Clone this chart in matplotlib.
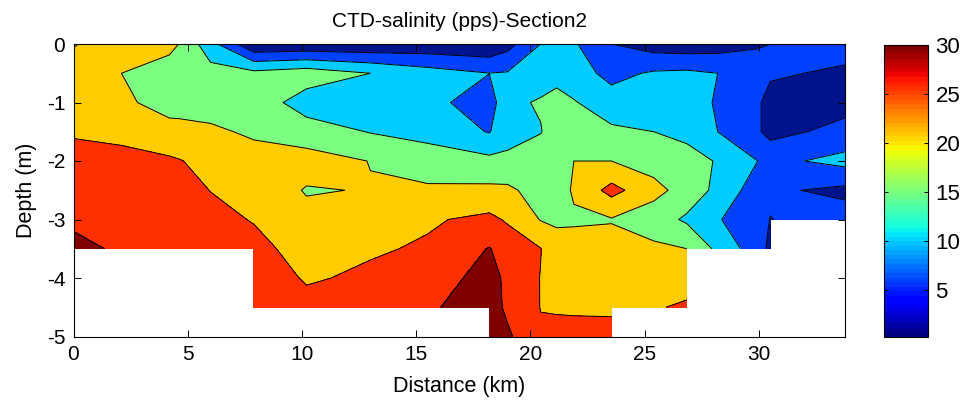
import matplotlib
matplotlib.use("Agg")
import matplotlib.pyplot as plt
import numpy as np

plt.rcParams['font.family'] = ['Liberation Sans', 'DejaVu Sans']
plt.rcParams['axes.unicode_minus'] = False

# station positions (km) and sample depths (m)
distance = [0, 2.1, 4.2, 4.6, 6.0, 7.9, 10.2, 13.0, 15.5, 18.2, 19.0, 20.45, 21.15, 21.9,
            23.55, 25.4, 26.85, 28.2, 29.95, 30.5, 33.75]
depth = [0, -0.5, -1, -1.5, -2, -2.5, -3, -3.5, -4, -4.5, -5]

# salinity profiles, top to bottom
st01 = [17, 18.5, 19.5, 21.2, 22.5, 24, 25.2, 26.7]
st02 = [19, 17.2, 18, 20.8, 22.3, 23.5, 24.5, 25.3]
st03 = [18.8, 14.5, 15.6, 18.6, 22.1, 23.3, 24.4, 25]
st04 = [17.2, 14.5, 15, 19, 21.7, 23.5, 24.5, 25]
st05 = [10.2, 14.5, 15.2, 18, 20.4, 21.4, 23, 25]
st06 = [0.8, 14, 15.5, 16.5, 19, 20, 21.2, 23, 24.5, 25]
st07 = [1, 15.3, 10.8, 15, 18.9, 16.9, 18.4, 19.5, 21, 23]
st08 = [1, 12.9, 10.5, 12.7, 17.1, 17.4, 19.5, 21, 22.3, 24]
st09 = [1.5, 10.5, 10, 11.2, 15.5, 17.7, 21, 22, 22.8, 25.2]
st10 = [1, 8.75, 6.5, 8.5, 14, 18.1, 22.5, 26, 28, 28, 28]
st11 = [3, 9, 12, 11, 14, 18, 21, 24, 24.5, 24.9, 26.5]
st12 = [8.7, 11, 13.3, 12.7, 15.5, 15.5, 17, 21.6, 21.4, 21.4, 22]
st13 = [12, 12, 13.8, 15, 16.9, 15, 16.5, 19, 19.5, 21, 23]
st14 = [9.2, 10.5, 13.2, 15, 17.2, 17.75, 16.6, 19, 19.7, 20.8, 23.2]
st15 = [4.5, 7.5, 10.5, 13.7, 17.2, 22.9, 16.9, 19, 20, 20.5, 23.6]
st16 = [2.5, 9.2, 10.5, 12.9, 15.5, 18.5, 15, 18, 19.8, 21.2]
st17 = [2, 9.5, 10.5, 11.8, 14.5, 15.5, 12.2, 17.2, 20, 22]
st18 = [2.5, 8.7, 8.3, 8.7, 12.6, 11.8, 9, 11.9]
st19 = [4.2, 6, 5, 5, 8.7, 6.5, 6, 6.3]
st20 = [4.5, 5, 3.2, 3.2, 7.6, 5.2, 4.4, 3.5]
st21 = [6, 3.9, 3, 5.8, 10, 3.5, 6.5]
profiles = [st01, st02, st03, st04, st05, st06, st07, st08, st09, st10, st11,
            st12, st13, st14, st15, st16, st17, st18, st19, st20, st21]

levels = [0.2, 4.5, 8.7, 12.9, 17.2, 21.5, 25.8, 30]
band_colors = ['#00128c', '#0040ff', '#00ccff', '#7aff80', '#ffcc00', '#ff3000', '#800000']
xticks = [0, 5, 10, 15, 20, 25, 30]
yticks = [0, -1, -2, -3, -4, -5]
cbar_ticks = [5, 10, 15, 20, 25, 30]

# pad every profile down to -5 m, below the sea bed stays empty
grid = np.full((len(depth), len(distance)), np.nan)
for i, p in enumerate(profiles):
    grid[:len(p), i] = p
grid = np.ma.masked_invalid(grid)

W, H = 964, 407
fig = plt.figure(figsize=(W / 100, H / 100), dpi=100)
ax = fig.add_axes([73.5 / W, 1 - 336.5 / H, 771 / W, 292.5 / H])

ax.contourf(distance, depth, grid, levels=levels, colors=band_colors, corner_mask=False)
ax.contour(distance, depth, grid, levels=levels[1:-1], colors='black', linewidths=0.7, corner_mask=False)

ax.set_xlim(0, 33.75)
ax.set_ylim(-5, 0)
ax.set_xticks(xticks)
ax.set_yticks(yticks)
ax.tick_params(direction='in', top=True, right=True, length=5, width=0.7, labelsize=15, pad=6)
ax.set_xlabel("Distance (km)", fontsize=15.5, labelpad=9)
ax.set_ylabel("Depth (m)", fontsize=15.5, labelpad=7)
ax.set_title("CTD-salinity (pps)-Section2", fontsize=15, pad=12)
for s in ax.spines.values():
    s.set_linewidth(0.8)

# colorbar is the plain 64 step jet
cax = fig.add_axes([883.5 / W, 1 - 337 / H, 45 / W, 292 / H])
sm = plt.cm.ScalarMappable(norm=plt.Normalize(0.2, 30), cmap=plt.get_cmap('jet', 64))
cb = fig.colorbar(sm, cax=cax)
cb.set_ticks(cbar_ticks)
cb.ax.tick_params(direction='in', left=True, right=True, length=3, width=0.7, labelsize=16, pad=5)
cb.outline.set_linewidth(0.8)

fig.savefig("out.png", dpi=100)
